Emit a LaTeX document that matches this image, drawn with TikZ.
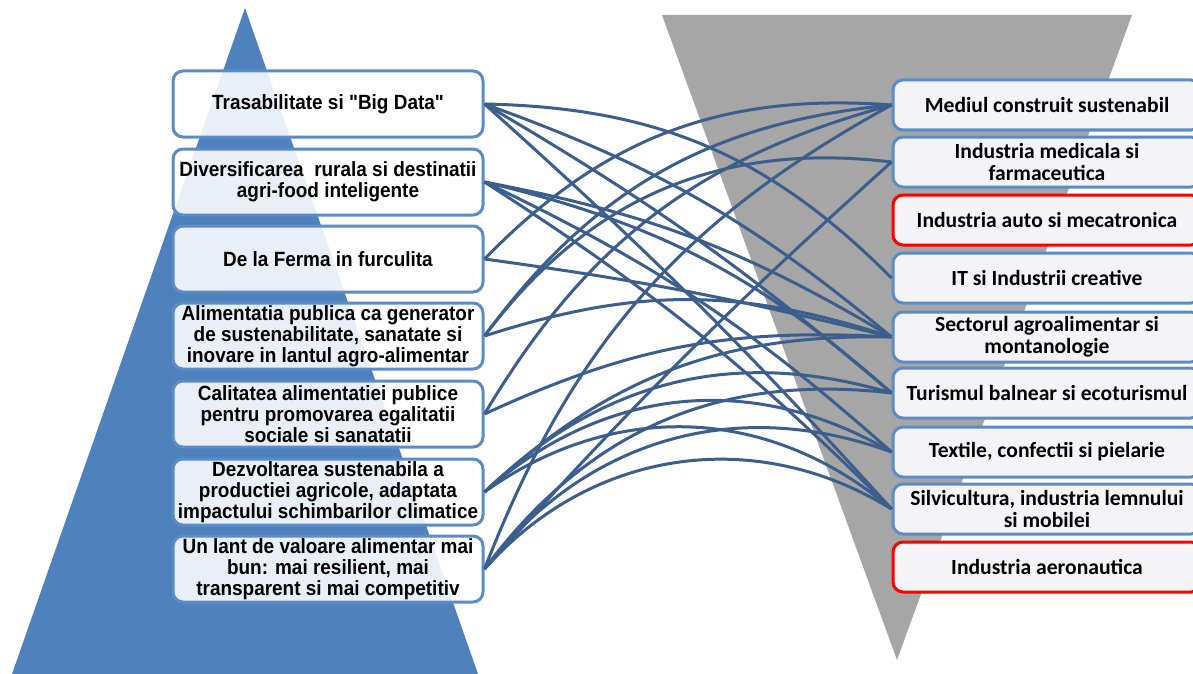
\documentclass[tikz,border=0pt]{standalone}
\usepackage{fontspec}
\setmainfont{Liberation Sans}
\newfontfamily\leftfont[FakeStretch=0.92]{Liberation Sans}
\newfontfamily\rightfont{Carlito}
\definecolor{triblue}{RGB}{79,129,189}
\definecolor{trigray}{RGB}{166,166,166}
\definecolor{boxedge}{RGB}{92,140,200}
\definecolor{linkc}{RGB}{59,94,140}
\definecolor{rbfill}{RGB}{244,244,246}
\begin{document}
\begin{tikzpicture}[x=0.5pt,y=-0.5pt,
  lbox/.style={draw=boxedge, line width=1.5pt, rounded corners=5pt, fill=white, fill opacity=0.88, text opacity=1,
    minimum width=155pt, minimum height=33pt, align=center, inner sep=1pt,
    font=\leftfont\bfseries\fontsize{10.3}{10.6}\selectfont},
  rbox/.style={draw=boxedge, line width=1.5pt, rounded corners=5pt, fill=rbfill,
    minimum width=154pt, minimum height=25pt, align=center, inner sep=1pt,
    font=\rightfont\bfseries\fontsize{10.8}{11}\selectfont},
  redbox/.style={rbox, draw=red},
  link/.style={draw=linkc, line width=1.5pt}]
\useasboundingbox (0,0) rectangle (1193,674);
\clip (0,0) rectangle (1193,674);
% triangles
\fill[triblue] (245,8) -- (478,674) -- (12,674) -- cycle;
\fill[trigray] (662,15) -- (1132,15) -- (897,660) -- cycle;
% left boxes
\node[lbox] (L1) at (328,104) {Trasabilitate si "Big Data"};
\node[lbox] (L2) at (328,182) {Diversificarea\ \ rurala si destinatii\\agri-food inteligente};
\node[lbox] (L3) at (328,259) {De la Ferma in furculita};
\node[lbox] (L4) at (328,336) {Alimentatia publica ca generator\\de sustenabilitate, sanatate si\\inovare in lantul agro-alimentar};
\node[lbox] (L5) at (328,414) {Calitatea alimentatiei publice\\pentru promovarea egalitatii\\sociale si sanatatii};
\node[lbox] (L6) at (328,492) {Dezvoltarea sustenabila a\\productiei agricole, adaptata\\impactului schimbarilor climatice};
\node[lbox] (L7) at (328,569) {Un lant de valoare alimentar mai\\bun: mai resilient, mai\\transparent si mai competitiv};
% right boxes
\node[rbox] (R1) at (1047,105) {Mediul construit sustenabil};
\node[rbox] (R2) at (1047,162) {Industria medicala si\\farmaceutica};
\node[redbox] (R3) at (1047,220) {Industria auto si mecatronica};
\node[rbox] (R4) at (1047,278) {IT si Industrii creative};
\node[rbox] (R5) at (1047,337) {Sectorul agroalimentar si\\montanologie};
\node[rbox] (R6) at (1047,393) {Turismul balnear si ecoturismul};
\node[rbox] (R7) at (1047,452) {Textile, confectii si pielarie};
\node[rbox] (R8) at (1047,509) {Silvicultura, industria lemnului\\si mobilei};
\node[redbox] (R9) at (1047,567) {Industria aeronautica};
% connectors
\draw[link] (L1.east) to[bend left=22] (R4.west);
\draw[link] (L1.east) to[bend left=10] (R5.west);
\draw[link] (L1.east) to[bend left=5] (R6.west);
\draw[link] (L1.east) to[bend left=3] (R8.west);
\draw[link] (L2.east) to[bend left=10] (R5.west);
\draw[link] (L2.east) to[bend left=14] (R6.west);
\draw[link] (L2.east) to[bend left=8] (R7.west);
\draw[link] (L2.east) to[bend left=6] (R8.west);
\draw[link] (L3.east) to[bend left=25] (R1.west);
\draw[link] (L3.east) to[bend left=3] (R5.west);
\draw[link] (L4.east) to[bend left=24] (R1.west);
\draw[link] (L4.east) to[bend left=30] (R2.west);
\draw[link] (L4.east) to[bend left=18] (R5.west);
\draw[link] (L5.east) to[bend left=22] (R1.west);
\draw[link] (L5.east) to[bend left=14] (R5.west);
\draw[link] (L6.east) to[bend left=22] (R5.west);
\draw[link] (L6.east) to[bend left=30] (R6.west);
\draw[link] (L6.east) to[bend left=36] (R7.west);
\draw[link] (L6.east) to[bend left=38] (R8.west);
\draw[link] (L7.east) to[bend left=20] (R1.west);
\draw[link] (L7.east) to[bend left=3] (R2.west);
\draw[link] (L7.east) to[bend left=30] (R6.west);
\draw[link] (L7.east) to[bend left=36] (R7.west);
\draw[link] (L7.east) to[bend left=40] (R8.west);
\end{tikzpicture}
\end{document}
